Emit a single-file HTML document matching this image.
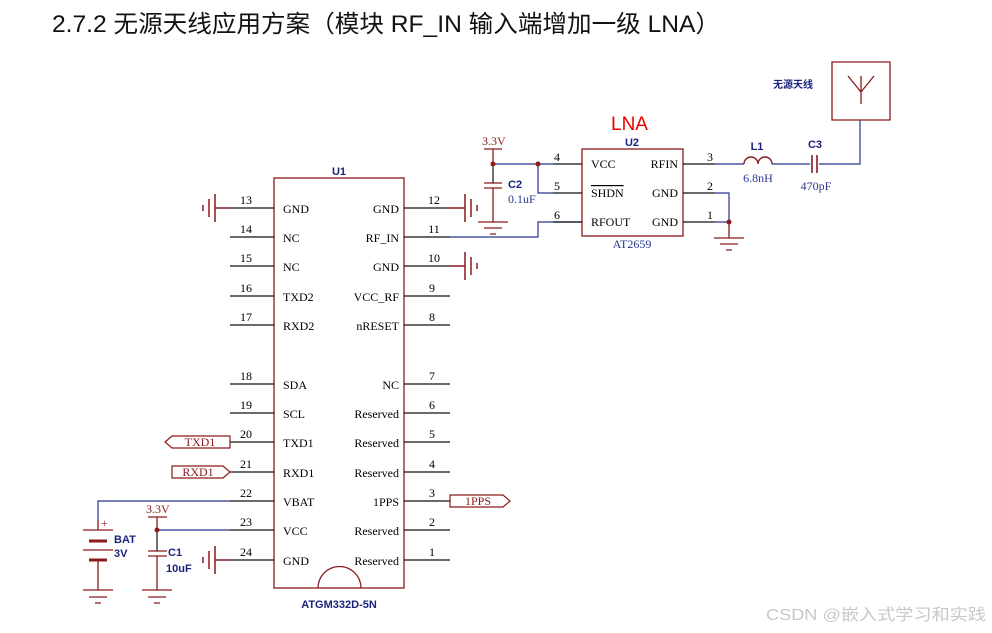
<!DOCTYPE html>
<html><head><meta charset="utf-8"><style>
body{margin:0;background:#fff;width:992px;height:633px;overflow:hidden}
svg{display:block}
.t{font-family:"Liberation Serif",serif;font-size:12px;fill:#000}
.n{font-family:"Liberation Serif",serif;font-size:12px;fill:#000}
.b{font-family:"Liberation Sans",sans-serif;font-size:11px;font-weight:bold;fill:#1a237e}
.bl{font-family:"Liberation Serif",serif;font-size:12px;fill:#283593}
.r{font-family:"Liberation Serif",serif;font-size:12px;fill:#8b1a1a}
</style></head><body>
<svg width="992" height="633" viewBox="0 0 992 633" xmlns="http://www.w3.org/2000/svg">
<text x="52" y="32" font-family="'Liberation Sans','Noto Sans CJK SC',sans-serif" font-size="24" fill="#111" textLength="668" lengthAdjust="spacingAndGlyphs">2.7.2 无源天线应用方案（模块 RF_IN 输入端增加一级 LNA）</text>
<text x="766" y="620" font-family="'Liberation Sans','Noto Sans CJK SC',sans-serif" font-size="16" fill="#c8c8c8" textLength="220" lengthAdjust="spacingAndGlyphs">CSDN @嵌入式学习和实践</text>

<!-- U1 -->
<rect x="274" y="178" width="130" height="410" fill="none" stroke="#8b1a1a" stroke-width="1.3"/>
<text x="339" y="175" class="b" text-anchor="middle">U1</text>
<path d="M318 588 A21 21 0 0 1 361 588" fill="none" stroke="#8b1a1a" stroke-width="1.3"/>
<text x="339" y="608" class="b" text-anchor="middle">ATGM332D-5N</text>
<g stroke="#111" stroke-width="1.2">
<line x1="230" y1="208" x2="274" y2="208"/><line x1="230" y1="237" x2="274" y2="237"/><line x1="230" y1="266" x2="274" y2="266"/><line x1="230" y1="296" x2="274" y2="296"/><line x1="230" y1="325" x2="274" y2="325"/><line x1="230" y1="384" x2="274" y2="384"/><line x1="230" y1="413" x2="274" y2="413"/><line x1="230" y1="442" x2="274" y2="442"/><line x1="230" y1="472" x2="274" y2="472"/><line x1="230" y1="501" x2="274" y2="501"/><line x1="230" y1="530" x2="274" y2="530"/><line x1="230" y1="560" x2="274" y2="560"/>
<line x1="404" y1="208" x2="450" y2="208"/><line x1="404" y1="237" x2="450" y2="237"/><line x1="404" y1="266" x2="450" y2="266"/><line x1="404" y1="296" x2="450" y2="296"/><line x1="404" y1="325" x2="450" y2="325"/><line x1="404" y1="384" x2="450" y2="384"/><line x1="404" y1="413" x2="450" y2="413"/><line x1="404" y1="442" x2="450" y2="442"/><line x1="404" y1="472" x2="450" y2="472"/><line x1="404" y1="501" x2="450" y2="501"/><line x1="404" y1="530" x2="450" y2="530"/><line x1="404" y1="560" x2="450" y2="560"/>
</g>
<g class="n" text-anchor="middle">
<text x="246" y="204">13</text><text x="246" y="233">14</text><text x="246" y="262">15</text><text x="246" y="292">16</text><text x="246" y="321">17</text><text x="246" y="380">18</text><text x="246" y="409">19</text><text x="246" y="438">20</text><text x="246" y="468">21</text><text x="246" y="497">22</text><text x="246" y="526">23</text><text x="246" y="556">24</text>
<text x="434" y="204">12</text><text x="434" y="233">11</text><text x="434" y="262">10</text><text x="432" y="292">9</text><text x="432" y="321">8</text><text x="432" y="380">7</text><text x="432" y="409">6</text><text x="432" y="438">5</text><text x="432" y="468">4</text><text x="432" y="497">3</text><text x="432" y="526">2</text><text x="432" y="556">1</text>
</g>
<g class="t">
<text x="283" y="213">GND</text><text x="283" y="242">NC</text><text x="283" y="271">NC</text><text x="283" y="301">TXD2</text><text x="283" y="330">RXD2</text><text x="283" y="389">SDA</text><text x="283" y="418">SCL</text><text x="283" y="447">TXD1</text><text x="283" y="477">RXD1</text><text x="283" y="506">VBAT</text><text x="283" y="535">VCC</text><text x="283" y="565">GND</text>
</g>
<g class="t" text-anchor="end">
<text x="399" y="213">GND</text><text x="399" y="242">RF_IN</text><text x="399" y="271">GND</text><text x="399" y="301">VCC_RF</text><text x="399" y="330">nRESET</text><text x="399" y="389">NC</text><text x="399" y="418">Reserved</text><text x="399" y="447">Reserved</text><text x="399" y="477">Reserved</text><text x="399" y="506">1PPS</text><text x="399" y="535">Reserved</text><text x="399" y="565">Reserved</text>
</g>

<!-- side grounds -->
<g stroke="#8b1a1a" stroke-width="1.5" fill="none">
<path d="M230 208H215M215 194V222M209 199V217M203 205V211"/>
<path d="M230 560H215M215 546V574M209 551V569M203 557V563"/>
<path d="M450 208H465M465 194V222M471 199V217M477 205V211"/>
<path d="M450 266H465M465 252V280M471 257V275M477 263V269"/>
</g>

<!-- port labels -->
<g stroke="#8b1a1a" stroke-width="1.2" fill="none">
<path d="M230 436H172L165 442L172 448H230Z"/>
<path d="M172 466H223L230 472L223 478H172Z"/>
<path d="M450 495H503L510 501L503 507H450Z"/>
</g>
<text x="200" y="446" class="r" text-anchor="middle">TXD1</text>
<text x="198" y="476" class="r" text-anchor="middle">RXD1</text>
<text x="478" y="505" class="r" text-anchor="middle">1PPS</text>

<!-- BAT / C1 -->
<path d="M230 501H98V520" stroke="#283593" stroke-width="1.2" fill="none"/>
<path d="M230 530H157" stroke="#283593" stroke-width="1.2" fill="none"/>
<g stroke="#8b1a1a" stroke-width="1.3" fill="none">
<path d="M98 520V530M83 530H113M83 550H113M98 560V590M83 590H113M89 597H107M95 603H101"/>
<path d="M89 541H107M89 560H107" stroke-width="3"/>
<path d="M148 517H167M157 517V530M148 551H167M148 556H167M157 556V590M142 590H172M148 597H166M154 603H160"/>
</g>
<line x1="157" y1="530" x2="157" y2="551" stroke="#111" stroke-width="1.2"/>
<circle cx="157" cy="530" r="2.5" fill="#8b1a1a"/>
<text x="101" y="527" class="r" font-size="10">+</text>
<text x="114" y="543" class="b" font-size="12">BAT</text>
<text x="114" y="557" class="b" font-size="12">3V</text>
<text x="168" y="556" class="b" font-size="12">C1</text>
<text x="166" y="572" class="b" font-size="12">10uF</text>
<text x="146" y="513" class="r" font-size="11">3.3V</text>

<!-- RF_IN wire -->
<path d="M450 237H538V222H582" stroke="#283593" stroke-width="1.2" fill="none"/>

<!-- LNA -->
<text x="611" y="130" font-family="'Liberation Sans',sans-serif" font-size="19" fill="#e00">LNA</text>
<text x="632" y="146" class="b" text-anchor="middle">U2</text>
<rect x="582" y="149" width="101" height="87" fill="none" stroke="#8b1a1a" stroke-width="1.3"/>
<text x="632" y="248" class="bl" text-anchor="middle">AT2659</text>
<g stroke="#111" stroke-width="1.2">
<line x1="553" y1="164" x2="582" y2="164"/><line x1="553" y1="193" x2="582" y2="193"/><line x1="553" y1="222" x2="582" y2="222"/>
<line x1="683" y1="164" x2="715" y2="164"/><line x1="683" y1="193" x2="715" y2="193"/><line x1="683" y1="222" x2="715" y2="222"/>
</g>
<g class="n" text-anchor="middle"><text x="557" y="161">4</text><text x="557" y="190">5</text><text x="557" y="219">6</text><text x="710" y="161">3</text><text x="710" y="190">2</text><text x="710" y="219">1</text></g>
<g class="t"><text x="591" y="168">VCC</text><text x="591" y="197" text-decoration="overline">SHDN</text><text x="591" y="226">RFOUT</text></g>
<g class="t" text-anchor="end"><text x="678" y="168">RFIN</text><text x="678" y="197">GND</text><text x="678" y="226">GND</text></g>
<path d="M493 164H553M538 164V193H553" stroke="#283593" stroke-width="1.2" fill="none"/>
<path d="M715 193H729V222H715" stroke="#283593" stroke-width="1.2" fill="none"/>
<g stroke="#8b1a1a" stroke-width="1.3" fill="none">
<path d="M484 149H502M493 149V164M484 183H502M484 188H502M493 188V222M478 222H508M484 228H502M490 234H496"/>
<path d="M729 222V238M714 238H744M720 244H738M726 250H732"/>
<path d="M832 62H890V120H832Z M848 76L861 92L874 76M861 76V104"/>
</g>
<line x1="493" y1="164" x2="493" y2="183" stroke="#111" stroke-width="1.2"/>
<circle cx="493" cy="164" r="2.5" fill="#8b1a1a"/><circle cx="538" cy="164" r="2.5" fill="#8b1a1a"/><circle cx="729" cy="222" r="2.5" fill="#8b1a1a"/>
<text x="482" y="145" class="r" font-size="11">3.3V</text>
<text x="508" y="188" class="b" font-size="12">C2</text>
<text x="508" y="203" class="bl" font-size="11">0.1uF</text>
<!-- L1 C3 antenna -->
<path d="M715 164H744M772 164H810M819 164H860V120" stroke="#283593" stroke-width="1.2" fill="none"/>
<path d="M744 164a7 7 0 0 1 14 0a7 7 0 0 1 14 0" stroke="#8b1a1a" stroke-width="1.4" fill="none"/>
<path d="M812 155V173M817 155V173" stroke="#8b1a1a" stroke-width="1.6"/>
<text x="757" y="150" class="b" text-anchor="middle">L1</text>
<text x="758" y="182" class="bl" text-anchor="middle">6.8nH</text>
<text x="815" y="148" class="b" text-anchor="middle">C3</text>
<text x="816" y="190" class="bl" text-anchor="middle">470pF</text>
<text x="773" y="88" font-family="'Liberation Sans','Noto Sans CJK SC',sans-serif" font-size="10" font-weight="bold" fill="#1a237e">无源天线</text>
</svg>
</body></html>
